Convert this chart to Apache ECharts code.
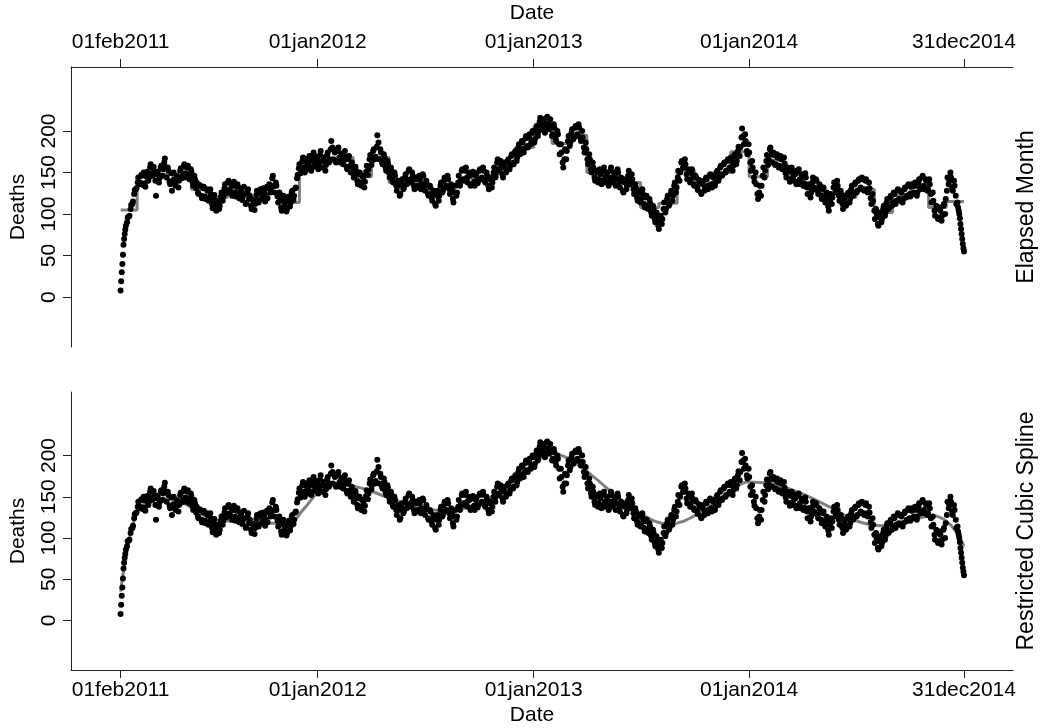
<!DOCTYPE html>
<html>
<head>
<meta charset="utf-8">
<script src="https://cdn.jsdelivr.net/npm/echarts@6/dist/echarts.min.js"></script>
<style>
html,body{margin:0;padding:0;background:#fff;}
#chart{width:1047px;height:728px;}
</style>
</head>
<body>
<div id="chart"></div>
<script>
// ---- data (days counted from 01feb2011) ----
var tickDates = ['2011-02-01', '2012-01-01', '2013-01-01', '2014-01-01', '2014-12-31'];
var tickLabels = ['01feb2011', '01jan2012', '01jan2013', '01jan2014', '31dec2014'];
var yTicks = [0, 50, 100, 150, 200];

// daily deaths, days 0..8
var deathsStart = [8, 19, 30, 40, 51, 63, 70, 76, 81];
// deaths on days 9, 12, 15, ... 1419
var deathsA = [
  86, 96, 98, 111, 115, 129, 131, 144, 138, 146,
  150, 133, 151, 144, 160, 146, 152, 122, 151, 143,
  158, 154, 167, 144, 152, 136, 128, 150, 134, 145,
  140, 155, 146, 160, 144, 158, 142, 151, 134, 142,
  138, 124, 134, 119, 133, 118, 128, 119, 124, 107,
  123, 104, 116, 110, 126, 121, 136, 127, 140, 126,
  122, 139, 121, 136, 119, 128, 122, 124, 114, 130,
  122, 106, 116, 112, 128, 114, 130, 120, 127, 122,
  119, 136, 131, 146, 126, 134, 114, 120, 104, 122,
  114, 106, 121, 114, 128, 122, 132, 147, 160, 152,
  168, 150, 166, 159, 164, 156, 174, 157, 166, 160,
  176, 156, 164, 159, 174, 166, 188, 166, 174, 164,
  180, 162, 172, 164, 169, 154, 170, 150, 156, 146,
  152, 136, 150, 134, 144, 139, 158, 154, 171, 164,
  178, 169, 195, 166, 174, 160, 168, 152, 161, 144,
  152, 138, 146, 128, 134, 124, 142, 132, 148, 140,
  154, 138, 146, 130, 144, 134, 142, 136, 146, 128,
  136, 122, 132, 116, 124, 110, 128, 122, 138, 128,
  144, 134, 142, 124, 130, 114, 134, 126, 146, 140,
  154, 140, 156, 138, 146, 136, 151, 134, 149, 140,
  154, 144, 152, 138, 146, 130, 144, 138, 156, 150,
  166, 152, 160, 144, 162, 152, 166, 158, 172, 162,
  176, 168, 184, 176, 186, 179, 194, 180, 196, 188,
  198, 190, 206, 199, 216, 202, 210, 204, 217, 202,
  206, 196, 204, 188, 196, 172, 174, 156, 178, 176,
  194, 186, 202, 192, 206, 196, 204, 188, 192, 174,
  178, 160, 166, 150, 156, 140, 150, 142, 148, 140,
  156, 138, 146, 140, 156, 138, 146, 142, 150, 132,
  140, 126, 142, 134, 152, 136, 142, 124, 132, 116,
  126, 118, 124, 108, 122, 106, 114, 98, 106, 90,
  96, 82, 98, 94, 114, 106, 122, 112, 128, 122,
  138, 132, 152, 150, 164, 156, 160, 142, 150, 142,
  148, 134, 144, 129, 138, 124, 140, 132, 142, 134,
  148, 132, 146, 138, 152, 144, 158, 148, 162, 152,
  166, 156, 164, 158, 172, 164, 181, 180, 203, 184,
  188, 172, 174, 152, 156, 139, 136, 118, 134, 134,
  156, 152, 171, 166, 180, 162, 171, 160, 168, 158,
  166, 156, 161, 144, 154, 139, 156, 140, 148, 139,
  154, 136, 146, 137, 144, 124, 132, 126, 144, 130,
  140, 124, 134, 118, 132, 114, 121, 104, 124, 120,
  138, 128, 134, 116, 124, 106, 122, 112, 126, 118,
  134, 124, 138, 128, 142, 132, 142, 128, 142, 126,
  131, 112, 116, 94, 100, 86, 102, 94, 110, 102,
  118, 108, 122, 114, 124, 116, 130, 116, 126, 118,
  132, 122, 136, 121, 136, 126, 134, 126, 142, 132,
  146, 130, 140, 130, 136, 114, 116, 98, 106, 96,
  104, 98, 112, 118, 144, 140, 144, 128, 134, 112,
  108
];
// deaths on days 11, 14, 17, ... 1418
var deathsB = [
  90, 97, 106, 112, 124, 130, 138, 136, 147, 135,
  137, 145, 140, 156, 149, 157, 140, 148, 138, 156,
  146, 162, 156, 156, 139, 149, 141, 137, 146, 132,
  152, 143, 157, 149, 156, 147, 154, 139, 146, 131,
  126, 135, 122, 131, 121, 130, 116, 130, 112, 118,
  111, 114, 106, 121, 116, 131, 125, 138, 130, 136,
  134, 126, 133, 124, 131, 117, 133, 112, 126, 118,
  110, 117, 105, 123, 116, 126, 118, 131, 115, 133,
  131, 126, 143, 134, 138, 121, 126, 108, 116, 110,
  103, 118, 109, 126, 117, 131, 143, 155, 149, 164,
  156, 163, 154, 170, 152, 168, 162, 169, 154, 171,
  164, 168, 152, 171, 162, 178, 180, 177, 162, 176,
  168, 173, 160, 176, 157, 166, 158, 162, 144, 157,
  140, 148, 138, 146, 132, 151, 147, 166, 159, 176,
  166, 181, 186, 178, 162, 172, 156, 164, 149, 156,
  140, 150, 134, 140, 122, 136, 130, 144, 136, 152,
  142, 150, 134, 142, 132, 146, 130, 148, 134, 140,
  124, 134, 120, 128, 112, 122, 116, 134, 126, 140,
  132, 146, 130, 136, 118, 126, 122, 138, 134, 152,
  142, 152, 144, 150, 134, 148, 139, 146, 137, 152,
  142, 156, 140, 150, 134, 142, 132, 150, 144, 162,
  154, 164, 148, 156, 150, 164, 154, 170, 160, 174,
  164, 180, 172, 188, 174, 191, 182, 192, 184, 200,
  186, 202, 194, 211, 206, 214, 198, 216, 209, 214,
  194, 208, 192, 200, 184, 184, 162, 166, 166, 188,
  182, 198, 190, 204, 194, 208, 192, 200, 180, 186,
  166, 172, 154, 162, 144, 152, 138, 154, 136, 152,
  144, 150, 134, 152, 144, 150, 134, 154, 138, 144,
  128, 138, 130, 146, 140, 148, 130, 136, 120, 128,
  114, 130, 112, 120, 110, 118, 102, 110, 94, 102,
  86, 90, 88, 106, 102, 118, 110, 124, 116, 134,
  126, 144, 140, 162, 156, 166, 148, 154, 138, 154,
  136, 146, 132, 141, 126, 136, 128, 144, 130, 146,
  136, 144, 134, 150, 140, 156, 146, 160, 150, 164,
  154, 168, 152, 170, 160, 176, 170, 192, 194, 196,
  176, 184, 162, 164, 144, 150, 124, 126, 122, 146,
  144, 164, 159, 178, 172, 174, 159, 172, 156, 170,
  154, 168, 149, 156, 142, 151, 144, 152, 136, 151,
  142, 148, 134, 149, 132, 136, 120, 138, 132, 142,
  128, 136, 122, 130, 120, 126, 109, 116, 112, 132,
  126, 140, 122, 128, 112, 118, 110, 124, 114, 130,
  122, 136, 126, 140, 130, 144, 130, 140, 130, 138,
  119, 124, 104, 106, 88, 96, 90, 106, 98, 114,
  106, 120, 110, 126, 112, 128, 118, 128, 114, 130,
  120, 134, 124, 133, 124, 138, 122, 138, 130, 144,
  134, 142, 128, 142, 124, 126, 104, 110, 94, 108,
  92, 110, 100, 128, 136, 150, 132, 140, 122, 114
];
// daily deaths, days 1420..1429
var deathsEnd = [104, 100, 95, 88, 82, 76, 70, 64, 59, 55];

// elapsed-month fitted values, Feb 2011 .. Dec 2014
var monthlyFit = [
  105, 145, 148, 145, 130, 120, 128, 120, 125, 114, 160,
  163, 168, 145, 168, 138, 140, 127, 135, 143, 145, 158, 180,
  205, 185, 195, 150, 145, 138, 108, 113, 152, 137, 150, 175,
  145, 165, 148, 132, 125, 120, 130, 102, 122, 132, 108, 115
];

// restricted cubic spline fitted values
var splineDays = [0, 5, 10, 15, 20, 30, 45, 70, 100, 130, 160, 200, 250, 285, 310, 335, 365, 400, 450, 500, 550, 600, 650, 700, 730, 760, 800, 850, 900, 930, 980, 1030, 1064, 1100, 1150, 1200, 1250, 1290, 1340, 1377, 1400, 1415, 1429];
var splineFit = [35, 60, 82, 100, 115, 133, 145, 148, 145, 132, 122, 120, 118, 118, 135, 155, 164, 162, 150, 138, 133, 140, 160, 190, 202, 196, 175, 145, 122, 117, 130, 155, 168, 166, 155, 138, 120, 115, 122, 127, 120, 108, 90];

// ---- build ----
var DAY = 86400000;
var t0 = Date.UTC(2011, 1, 1);
function dayOf(s) { var p = s.split('-'); return Math.round((Date.UTC(+p[0], +p[1] - 1, +p[2]) - t0) / DAY); }
var tickDays = tickDates.map(dayOf);

var obs = [];
deathsStart.forEach(function (v, i) { obs.push([i, v]); });
deathsA.forEach(function (v, i) { obs.push([9 + 3 * i, v]); });
deathsB.forEach(function (v, i) { obs.push([11 + 3 * i, v]); });
deathsEnd.forEach(function (v, i) { obs.push([1420 + i, v]); });

var stepData = [];
monthlyFit.forEach(function (v, i) {
  var y = 2011 + Math.floor((1 + i) / 12), m = (1 + i) % 12;
  stepData.push([Math.round((Date.UTC(y, m, 1) - t0) / DAY), v]);
});
stepData.push([tickDays[4], monthlyFit[monthlyFit.length - 1]]);

var splineData = splineDays.map(function (d, i) { return [d, splineFit[i]]; });

var FONT = '"Liberation Sans", Arial, Helvetica, sans-serif';
var axisCol = '#222';

function xAxisCfg(idx, pos) {
  return {
    gridIndex: idx, type: 'value', position: pos, min: -84, max: 1512,
    name: 'Date', nameLocation: 'middle', nameGap: pos === 'top' ? 43 : 35,
    nameTextStyle: { fontFamily: FONT, fontSize: 21, color: '#000', padding: [0, 20, 0, 0] },
    axisLine: { show: true, onZero: false, lineStyle: { color: axisCol, width: 1 } },
    axisTick: { show: true, length: 8, customValues: tickDays, lineStyle: { color: axisCol } },
    axisLabel: {
      customValues: tickDays, margin: pos === 'top' ? 14 : 10,
      fontFamily: FONT, fontSize: 21, color: '#000',
      formatter: function (v) { var k = tickDays.indexOf(Math.round(v)); return k >= 0 ? tickLabels[k] : ''; }
    },
    splitLine: { show: false }
  };
}
function yAxisCfg(idx) {
  return {
    gridIndex: idx, type: 'value', min: -60, max: 277,
    name: 'Deaths', nameLocation: 'middle', nameGap: 42,
    nameTextStyle: { fontFamily: FONT, fontSize: 21, color: '#000' },
    axisLine: { show: true, onZero: false, lineStyle: { color: axisCol, width: 1 } },
    axisTick: { show: true, length: 8, customValues: yTicks, lineStyle: { color: axisCol } },
    axisLabel: { customValues: yTicks, rotate: 90, margin: 11, fontFamily: FONT, fontSize: 21, color: '#000' },
    splitLine: { show: false }
  };
}

var dotStyle = { color: '#000', opacity: 1 };
var chart = echarts.init(document.getElementById('chart'));
chart.setOption({
  animation: false,
  backgroundColor: '#fff',
  grid: [
    { left: 67, top: 67, width: 946, height: 280 },
    { left: 67, top: 392, width: 946, height: 278 }
  ],
  xAxis: [xAxisCfg(0, 'top'), xAxisCfg(1, 'bottom')],
  yAxis: [yAxisCfg(0), yAxisCfg(1)],
  graphic: [
    { type: 'text', x: 1027, y: 207, rotation: Math.PI / 2,
      style: { text: 'Elapsed Month', font: '23px ' + FONT, fill: '#000', align: 'center', verticalAlign: 'middle' } },
    { type: 'text', x: 1027, y: 531, rotation: Math.PI / 2,
      style: { text: 'Restricted Cubic Spline', font: '23px ' + FONT, fill: '#000', align: 'center', verticalAlign: 'middle' } }
  ],
  series: [
    { type: 'line', xAxisIndex: 0, yAxisIndex: 0, data: stepData, step: 'end', showSymbol: false,
      lineStyle: { color: '#808080', width: 3 }, z: 1 },
    { type: 'scatter', xAxisIndex: 0, yAxisIndex: 0, data: obs, symbol: 'circle', symbolSize: 6,
      itemStyle: dotStyle, z: 2 },
    { type: 'line', xAxisIndex: 1, yAxisIndex: 1, data: splineData, smooth: 0.4, showSymbol: false,
      lineStyle: { color: '#808080', width: 3 }, z: 1 },
    { type: 'scatter', xAxisIndex: 1, yAxisIndex: 1, data: obs, symbol: 'circle', symbolSize: 6,
      itemStyle: dotStyle, z: 2 }
  ]
});
</script>
</body>
</html>
